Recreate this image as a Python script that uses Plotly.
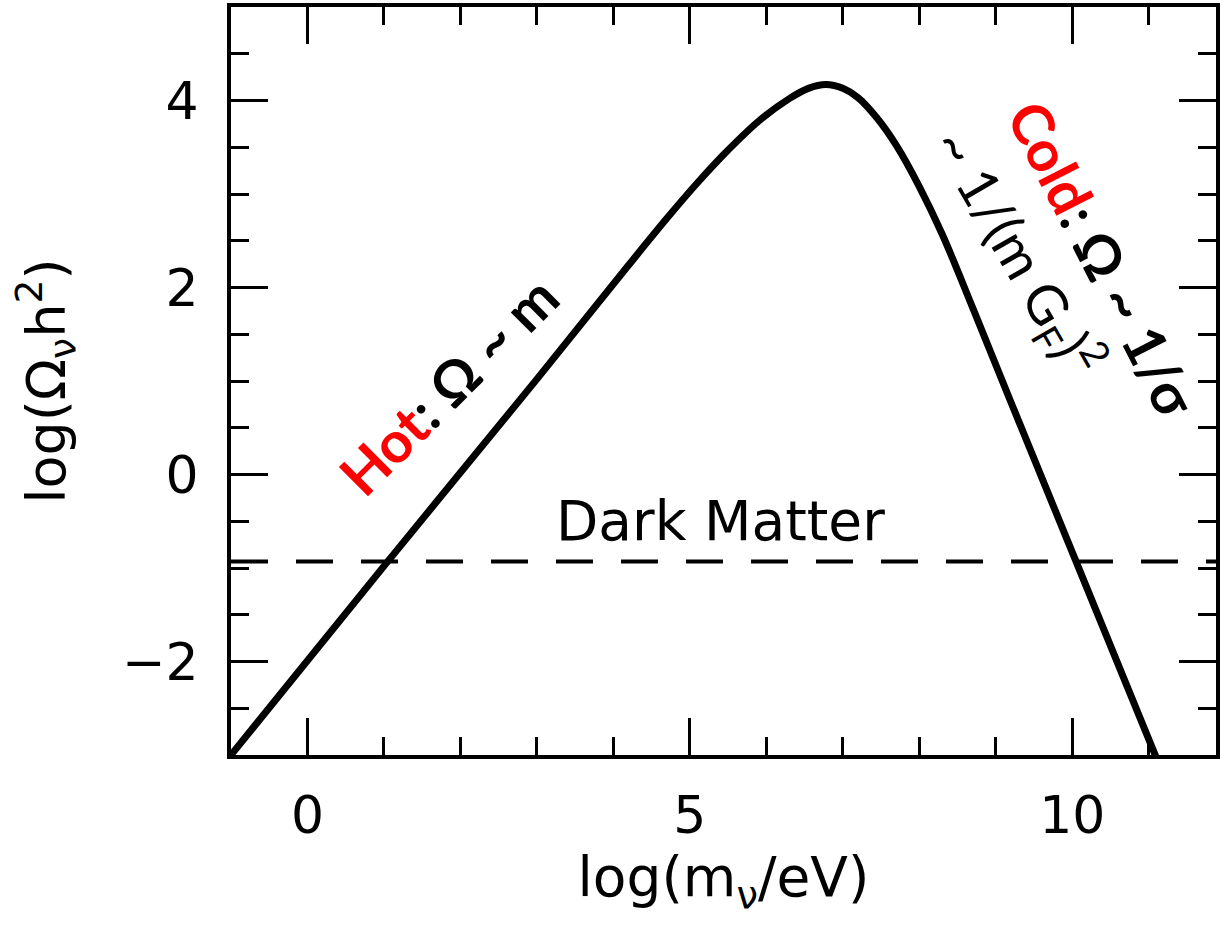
import plotly.graph_objects as go

# Relic density curve
log_m = [-1.0, 1.0, 3.0, 4.2, 4.7, 5.1, 5.5, 5.9, 6.3, 6.55, 6.78, 7.0, 7.2, 7.45, 7.7, 8.0, 8.3, 8.7, 9.2, 10.06, 11.12]
log_omega = [-3.0, -0.98, 1.02, 2.24, 2.74, 3.12, 3.47, 3.78, 4.02, 4.13, 4.17, 4.13, 4.03, 3.81, 3.52, 3.08, 2.57, 1.78, 0.77, -0.95, -3.07]

dark_matter_level = -0.93
x_range = [-1, 11.88]
y_range = [-3, 5]
x_major = [0, 5, 10]
y_major = [-2, 0, 2, 4]

label_font = "DejaVu Sans"
note_font = "Lato"

fig = go.Figure()

fig.add_trace(go.Scatter(
    x=x_range, y=[dark_matter_level, dark_matter_level], mode="lines",
    line=dict(color="black", width=4, dash="37px,28px"),
    hoverinfo="skip", showlegend=False))

fig.add_trace(go.Scatter(
    x=log_m, y=log_omega, mode="lines",
    line=dict(color="black", width=7, shape="spline", smoothing=1.0),
    showlegend=False))

axis_common = dict(
    showline=True, linecolor="black", linewidth=4,
    ticks="inside", tickcolor="black", tickwidth=3, ticklen=37,
    mirror="ticks", showgrid=False, zeroline=False,
    tickfont=dict(family=label_font, size=52, color="black"),
)

fig.update_xaxes(
    **axis_common, range=x_range, tickvals=x_major,
    minor=dict(dtick=1, tick0=0, ticks="inside", ticklen=18, tickwidth=3, tickcolor="black", showgrid=False),
    ticklabelstandoff=12,
    title=dict(text="log(m<sub>ν</sub>/eV)", font=dict(family=label_font, size=55, color="black"), standoff=10),
)
fig.update_yaxes(
    **axis_common, range=y_range, tickvals=y_major,
    minor=dict(dtick=0.5, tick0=0, ticks="inside", ticklen=18, tickwidth=3, tickcolor="black", showgrid=False),
    ticklabelstandoff=18,
    title=dict(text="log(Ω<sub>ν</sub>h<sup>2</sup>)", font=dict(family=label_font, size=54, color="black"), standoff=40),
)

fig.add_annotation(
    x=1.84, y=0.96, xref="x", yref="y", showarrow=False, textangle=-45,
    text='<b><span style="color:#ff0000">Hot</span>: Ω ~ m</b>',
    font=dict(family=note_font, size=57, color="black"))

fig.add_annotation(
    x=10.4, y=2.3, xref="x", yref="y", showarrow=False, textangle=63,
    text='<b><span style="color:#ff0000">Cold</span>: Ω ~ 1/σ</b>',
    font=dict(family=note_font, size=57, color="black"))

fig.add_annotation(
    x=9.28, y=2.38, xref="x", yref="y", showarrow=False, textangle=60,
    text='~ 1/(m G<sub>F</sub>)<sup>2</sup>',
    font=dict(family=note_font, size=55, color="black"))

fig.add_annotation(
    x=5.4, y=-0.5, xref="x", yref="y", showarrow=False,
    text='Dark Matter',
    font=dict(family=label_font, size=55, color="black"))

fig.update_layout(
    width=1220, height=931,
    margin=dict(l=231, r=0, t=7, b=176),
    plot_bgcolor="white", paper_bgcolor="white",
)

fig.write_html("out.html")
